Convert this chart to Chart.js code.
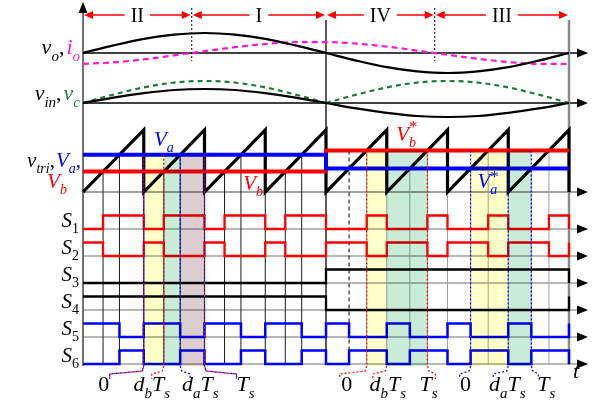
<!DOCTYPE html>
<html>
<head>
<meta charset="utf-8">
<script src="https://cdn.jsdelivr.net/npm/chart.js@4/dist/chart.umd.min.js"></script>
<style>
  html, body { margin: 0; background: #fff; }
</style>
</head>
<body>
<canvas id="chart" width="597" height="400"></canvas>
<script>
// ---- values (time in carrier periods Ts) ----
const nPeriods = 8;
const refStep = 4;                       // sector change: Va/Vb -> Va*/Vb*
const sectorBounds = [0, 1.79, 4, 5.79, 8];
const sectorNames = ['II', 'I', 'IV', 'III'];
const vbRef = [0.33, 0.67];              // Vb, Vb*  (fraction of carrier peak)
const vaRef = [0.60, 0.38];              // Va, Va*
const waveT   = [0, 0.5, 1, 1.5, 2, 2.5, 3, 3.5, 4, 4.5, 5, 5.5, 6, 6.5, 7, 7.5, 8];
const voVals  = [0, 0.38, 0.71, 0.92, 1, 0.92, 0.71, 0.38, 0, -0.38, -0.71, -0.92, -1, -0.92, -0.71, -0.38, 0];
const ioVals  = [-0.54, -0.47, -0.32, -0.12, 0.09, 0.29, 0.45, 0.54, 0.54, 0.47, 0.32, 0.12, -0.09, -0.29, -0.45, -0.54, -0.54];
const vinVals = [0, 0.27, 0.49, 0.65, 0.7, 0.65, 0.49, 0.27, 0, -0.27, -0.49, -0.65, -0.7, -0.65, -0.49, -0.27, 0];
const vcVals  = [0, 0.42, 0.78, 1.02, 1.1, 1.02, 0.78, 0.42, 0, 0.42, 0.78, 1.02, 1.1, 1.02, 0.78, 0.42, 0];

// bottom tick marks: anchor time, label kind, leader colour
const tickMarks = [
  { t: 1, kind: '0', col: 'rb', lead: -34, dx: -40 },
  { t: 1 + vbRef[0], kind: 'db', col: 'r', lead: -12, dx: -12 },
  { t: 1 + vaRef[0], kind: 'da', col: 'b', lead: 10, dx: 20 },
  { t: 2, kind: 'Ts', col: 'rb', lead: 32, dx: 41 },
  { t: 4 + vbRef[1], kind: '0', col: 'r', lead: -27, dx: -20 },
  { t: 5, kind: 'db', col: 'r', lead: -14, dx: 1 },
  { t: 5 + vbRef[1], kind: 'Ts', col: 'r', lead: 8, dx: 1 },
  { t: 6 + vaRef[1], kind: '0', col: 'b', lead: -11, dx: -5 },
  { t: 7, kind: 'da', col: 'b', lead: -15, dx: -1 },
  { t: 7 + vaRef[1], kind: 'Ts', col: 'b', lead: 7, dx: 15 },
];

// ---- layout (pixels) ----
const X0PX = 83, TSPX = 60.75;
const lane = { vo: 53, vin: 103, triLo: 192, triHi: 130, sAxis: [229, 256, 283, 310, 337, 364], sHigh: 13.5, amp: 20, bottom: 365, arrowX: 588 };
const RED = '#ff0000', BLUE = '#0000ff', MAG = '#ff1ad1', GREEN = '#1f7a3f';
const FONT = '"Liberation Serif", "DejaVu Serif", serif';

const refY = v => lane.triLo - v * (lane.triLo - lane.triHi);

const line = (data, color, width, extra) => Object.assign(
  { data, borderColor: color, borderWidth: width, showLine: true, pointRadius: 0, fill: false, tension: 0 }, extra);

const wave = (vals, base, from, to) =>
  waveT.slice(from, to).map((t, i) => ({ x: t, y: base - vals[from + i] * lane.amp }));

const carrier = [];
for (let k = 0; k < nPeriods; k++) {
  carrier.push({ x: k, y: lane.triLo }, { x: k + 1, y: lane.triHi }, { x: k + 1, y: lane.triLo });
}

const refLine = r => [
  { x: 0, y: refY(r[0]) }, { x: refStep, y: refY(r[0]) },
  { x: refStep, y: refY(r[1]) }, { x: nPeriods, y: refY(r[1]) }];

// switch signal: on while carrier is above (or below) the reference
const pwm = function (ref, onAbove, axis) {
  const lvl = on => on ? axis - lane.sHigh : axis;
  const pts = [];
  for (let k = 0; k < nPeriods; k++) {
    const c = k + ref[k < refStep ? 0 : 1];
    pts.push({ x: k, y: lvl(!onAbove) }, { x: c, y: lvl(!onAbove) },
             { x: c, y: lvl(onAbove) }, { x: k + 1, y: lvl(onAbove) });
  }
  pts.push({ x: nPeriods, y: lvl(!onAbove) });
  return pts;
};
const sector = function (onFirst, axis) {
  const lvl = on => on ? axis - lane.sHigh : axis;
  return [{ x: 0, y: lvl(onFirst) }, { x: refStep, y: lvl(onFirst) }, { x: refStep, y: lvl(!onFirst) },
          { x: nPeriods, y: lvl(!onFirst) }, { x: nPeriods, y: lvl(onFirst) }];
};

const smooth = { cubicInterpolationMode: 'monotone' };
const datasets = [
  line(refLine(vaRef), BLUE, 4),
  line(refLine(vbRef), RED, 4),
  line(carrier, '#000', 3.2),
  line(wave(voVals, lane.vo, 0, 17), '#000', 2.2, smooth),
  line(wave(ioVals, lane.vo, 0, 17), MAG, 2.2, Object.assign({ borderDash: [6, 4] }, smooth)),
  line(wave(vinVals, lane.vin, 0, 17), '#000', 2.2, smooth),
  line(wave(vcVals, lane.vin, 0, 9), GREEN, 2.2, Object.assign({ borderDash: [5, 4] }, smooth)),
  line(wave(vcVals, lane.vin, 8, 17), GREEN, 2.2, Object.assign({ borderDash: [5, 4] }, smooth)),
  line(pwm(vbRef, true, lane.sAxis[0]), RED, 2.3),
  line(pwm(vbRef, false, lane.sAxis[1]), RED, 2.3),
  line(sector(false, lane.sAxis[2]), '#000', 2.3),
  line(sector(true, lane.sAxis[3]), '#000', 2.3),
  line(pwm(vaRef, false, lane.sAxis[4]), BLUE, 2.5),
  line(pwm(vaRef, true, lane.sAxis[5]), BLUE, 2.5),
];

// ---- drawing helpers ----
function drawRich(ctx, x, y, parts, size, align) {
  const small = Math.round(size * 0.68);
  const fontOf = p => (p.up ? '' : 'italic ') + (p.sz || (p.sub || p.sup ? small : size)) + 'px ' + FONT;
  let w = 0, lastX = 0;
  const placed = parts.map(p => {
    ctx.font = fontOf(p);
    const pw = ctx.measureText(p.t).width;
    let at;
    if (p.over) { at = lastX; w = Math.max(w, at + pw); }
    else { at = w; lastX = w; w += pw + (p.gap || 0); }
    return { p, at };
  });
  const x0 = align === 'right' ? x - w : align === 'center' ? x - w / 2 : x;
  ctx.textBaseline = 'alphabetic';
  ctx.textAlign = 'left';
  placed.forEach(({ p, at }) => {
    ctx.font = fontOf(p);
    ctx.fillStyle = p.c || '#000';
    const dy = p.dy !== undefined ? p.dy : p.sub ? size * 0.3 : p.sup ? -size * 0.45 : 0;
    ctx.fillText(p.t, x0 + at, y + dy);
  });
}

function seg(ctx, pts, color, width, dash, offset) {
  ctx.save();
  ctx.strokeStyle = color;
  ctx.lineWidth = width;
  ctx.setLineDash(dash || []);
  ctx.lineDashOffset = offset || 0;
  ctx.beginPath();
  pts.forEach((p, i) => i ? ctx.lineTo(p[0], p[1]) : ctx.moveTo(p[0], p[1]));
  ctx.stroke();
  ctx.restore();
}

function arrowHead(ctx, x, y, dir, color, len, half) {
  ctx.save();
  ctx.fillStyle = color;
  ctx.beginPath();
  if (dir === 'r') { ctx.moveTo(x, y); ctx.lineTo(x - len, y - half); ctx.lineTo(x - len, y + half); }
  if (dir === 'l') { ctx.moveTo(x, y); ctx.lineTo(x + len, y - half); ctx.lineTo(x + len, y + half); }
  if (dir === 'u') { ctx.moveTo(x, y); ctx.lineTo(x - half, y + len); ctx.lineTo(x + half, y + len); }
  ctx.closePath();
  ctx.fill();
  ctx.restore();
}

function dotted(ctx, pts, col) {
  if (col === 'rb') {
    seg(ctx, pts, RED, 1.2, [2, 2], 0);
    seg(ctx, pts, BLUE, 1.2, [2, 2], 2);
  } else {
    seg(ctx, pts, col === 'r' ? RED : BLUE, 1.2, [2, 2]);
  }
}

const gridPlugin = {
  id: 'grid',
  beforeDatasetsDraw(chart) {
    const ctx = chart.ctx, xs = chart.scales.x, ys = chart.scales.y;
    const X = v => xs.getPixelForValue(v), Y = v => ys.getPixelForValue(v);
    const x0 = X(0), xEnd = X(nPeriods);

    // horizontal axes with arrows
    const axes = [[lane.vo, '#000'], [lane.vin, '#000'], [lane.triLo, '#808080']]
      .concat(lane.sAxis.map(a => [a, '#a0a0a0']));
    axes.forEach(([a, c]) => {
      seg(ctx, [[x0, Y(a)], [lane.arrowX - 6, Y(a)]], c, 1.3);
      arrowHead(ctx, lane.arrowX, Y(a), 'r', '#000', 11, 4.5);
    });

    // switching-instant lines
    for (let k = 0; k < nPeriods; k++) {
      const h = k < refStep ? 0 : 1;
      const col = h ? '#a0a0a0' : '#1a1a1a';
      seg(ctx, [[X(k + vbRef[h]), Y(refY(vbRef[h]))], [X(k + vbRef[h]), Y(lane.bottom)]], col, 1);
      if (k === refStep) {
        seg(ctx, [[X(k + vaRef[h]), Y(refY(vbRef[h]))], [X(k + vaRef[h]), Y(lane.bottom)]], '#000', 1, [4, 3]);
      } else {
        seg(ctx, [[X(k + vaRef[h]), Y(refY(vaRef[h]))], [X(k + vaRef[h]), Y(lane.bottom)]], col, 1);
      }
      if (k > 0 && k !== refStep) seg(ctx, [[X(k), Y(lane.triHi)], [X(k), Y(lane.bottom)]], col, 1);
    }
    seg(ctx, [[X(refStep), 20], [X(refStep), Y(lane.bottom)]], '#000', 1.3);
    seg(ctx, [[xEnd, 20], [xEnd, Y(lane.bottom)]], '#8a8a8a', 2.5);

    // vertical axis
    seg(ctx, [[x0, 10], [x0, Y(lane.bottom) + 1]], '#444', 1.5);
    arrowHead(ctx, x0, 2, 'u', '#000', 11, 4.5);

    // sector markers
    sectorBounds.slice(1, -1).forEach(b => {
      if (b !== refStep) seg(ctx, [[X(b), 8], [X(b), Y(lane.vo) + 8]], '#000', 1, [2, 2]);
    });
    ctx.font = '20px ' + FONT;
    sectorNames.forEach((name, i) => {
      const a = X(sectorBounds[i]), b = X(sectorBounds[i + 1]), m = (a + b) / 2;
      const half = ctx.measureText(name).width / 2 + 6;
      seg(ctx, [[a + 4, 15], [m - half, 15]], RED, 1.5);
      seg(ctx, [[m + half, 15], [b - 4, 15]], RED, 1.5);
      arrowHead(ctx, a + 1, 15, 'l', RED, 9, 4);
      arrowHead(ctx, b - 1, 15, 'r', RED, 9, 4);
      ctx.fillStyle = '#000';
      ctx.textAlign = 'center';
      ctx.textBaseline = 'alphabetic';
      ctx.fillText(name, m, 22);
    });
  },
  afterDatasetsDraw(chart) {
    const ctx = chart.ctx, xs = chart.scales.x, ys = chart.scales.y;
    const X = v => xs.getPixelForValue(v), Y = v => ys.getPixelForValue(v);
    const bot = Y(lane.bottom) + 1;

    // shaded duty intervals, multiplied over the traces
    const YEL = '#ffffc8', GRN = '#c9ecd8', MAU = '#dccdd1';
    const boxes = [
      [1, 1 + vbRef[0], YEL, vaRef[0]], [1 + vbRef[0], 1 + vaRef[0], GRN, vaRef[0]], [1 + vaRef[0], 2, MAU, vaRef[0]],
      [4 + vbRef[1], 5, YEL, vbRef[1]], [5, 5 + vbRef[1], GRN, vbRef[1]],
      [6 + vaRef[1], 7, YEL, vbRef[1]], [7, 7 + vaRef[1], GRN, vbRef[1]],
    ];
    ctx.save();
    ctx.globalCompositeOperation = 'multiply';
    boxes.forEach(([a, b, c, top]) => {
      ctx.fillStyle = c;
      ctx.fillRect(X(a), Y(refY(top)), X(b) - X(a), bot - Y(refY(top)));
    });
    ctx.restore();

    // dotted interval edges
    const edges = [
      [1, 'rb', vaRef[0]], [1 + vbRef[0], 'r', vaRef[0]], [1 + vaRef[0], 'b', vaRef[0]], [2, 'rb', vaRef[0]],
      [4 + vbRef[1], 'r', vbRef[1]], [5 + vbRef[1], 'r', vbRef[1]],
      [6 + vaRef[1], 'b', vbRef[1]], [7, 'b', vbRef[1]], [7 + vaRef[1], 'b', vbRef[1]],
    ];
    edges.forEach(([t, col, top]) => dotted(ctx, [[X(t), Y(refY(top))], [X(t), bot]], col));

    // bottom tick labels with leaders
    const labelParts = {
      '0': [{ t: '0', up: true }],
      db: [{ t: 'd' }, { t: 'b', sub: true }, { t: 'T' }, { t: 's', sub: true }],
      da: [{ t: 'd' }, { t: 'a', sub: true }, { t: 'T' }, { t: 's', sub: true }],
      Ts: [{ t: 'T' }, { t: 's', sub: true }],
    };
    tickMarks.forEach(m => {
      const ax = X(m.t);
      dotted(ctx, [[ax, bot], [ax + Math.sign(m.lead) * 1.5, bot + 5], [ax + m.lead, bot + 8], [ax + m.lead, bot + 13]], m.col);
      drawRich(ctx, ax + m.dx, 391, labelParts[m.kind], 22, 'center');
    });
    drawRich(ctx, 576, 378, [{ t: 't' }], 22, 'center');

    // trace labels on the left
    drawRich(ctx, 80, 54, [{ t: 'v' }, { t: 'o', sub: true }, { t: ',', up: true, gap: 2 }, { t: 'i', c: MAG }, { t: 'o', sub: true, c: MAG }], 22, 'right');
    drawRich(ctx, 80, 100, [{ t: 'v' }, { t: 'in', sub: true }, { t: ',', up: true, gap: 2 }, { t: 'v', c: GREEN }, { t: 'c', sub: true, c: GREEN }], 22, 'right');
    drawRich(ctx, 81, 167, [{ t: 'v' }, { t: 'tri', sub: true }, { t: ',', up: true, gap: 1 }, { t: 'V', c: BLUE }, { t: 'a', sub: true, c: BLUE }, { t: ',', up: true, c: BLUE }], 21, 'right');
    drawRich(ctx, 57, 188, [{ t: 'V', c: RED }, { t: 'b', sub: true, c: RED }], 21, 'center');
    lane.sAxis.forEach((a, i) => {
      drawRich(ctx, 79, a - 2, [{ t: 'S' }, { t: String(i + 1), sub: true, up: true }], 21, 'right');
    });

    // reference labels inside the plot
    drawRich(ctx, X(1.33), 146, [{ t: 'V', c: BLUE }, { t: 'a', sub: true, c: BLUE }], 21, 'center');
    drawRich(ctx, X(2.8), 190, [{ t: 'V', c: RED }, { t: 'b', sub: true, c: RED }], 21, 'center');
    drawRich(ctx, X(5.33), 141, [{ t: 'V', c: RED }, { t: 'b', sub: true, c: RED }, { t: '*', up: true, over: true, c: RED, sz: 17, dy: -9 }], 21, 'center');
    drawRich(ctx, X(6.67), 188, [{ t: 'V', c: BLUE }, { t: 'a', sub: true, c: BLUE }, { t: '*', up: true, over: true, c: BLUE, sz: 17, dy: -6 }], 21, 'center');
  },
};

new Chart(document.getElementById('chart'), {
  type: 'scatter',
  data: { datasets },
  options: {
    responsive: false,
    devicePixelRatio: 1,
    animation: false,
    events: [],
    layout: { padding: 0 },
    plugins: { legend: { display: false }, tooltip: { enabled: false } },
    scales: {
      x: { type: 'linear', display: false, min: -X0PX / TSPX, max: (597 - X0PX) / TSPX },
      y: { type: 'linear', display: false, min: 0, max: 400, reverse: true },
    },
  },
  plugins: [gridPlugin],
});
</script>
</body>
</html>
